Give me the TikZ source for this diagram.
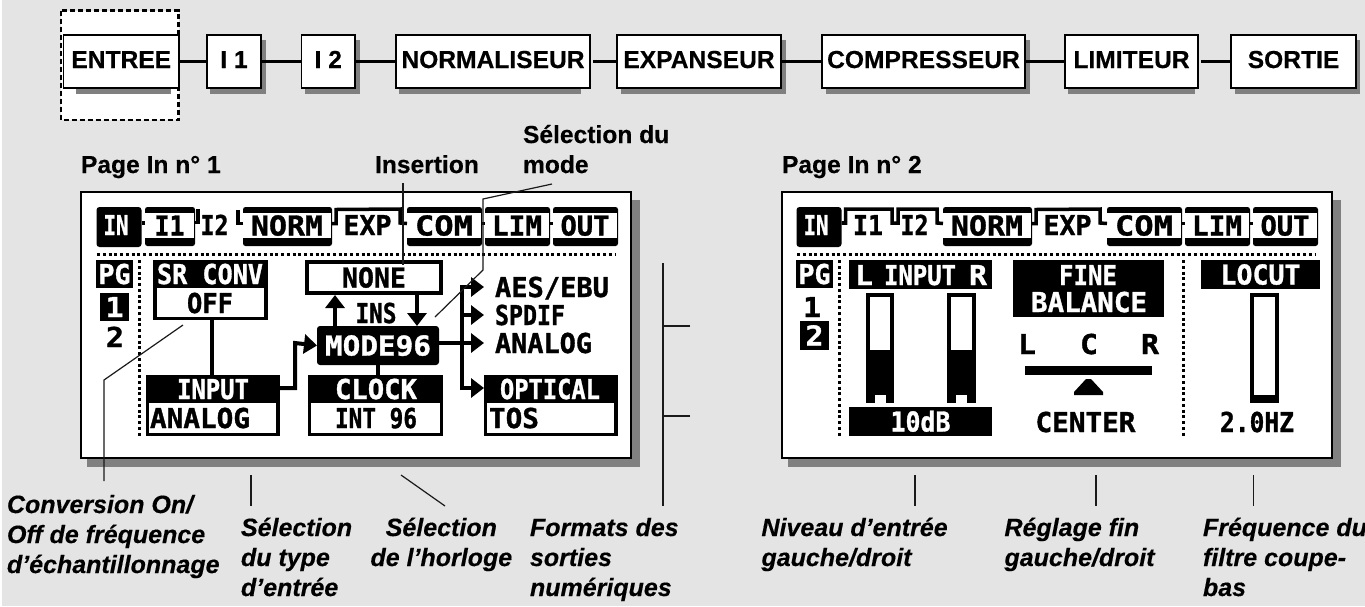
\documentclass[tikz,border=0pt]{standalone}
\usepackage{graphicx}
\usepackage{fontspec}
\setmainfont{Liberation Sans}[BoldFeatures={FakeBold=0.4},BoldItalicFeatures={FakeBold=0.4}]
\newfontfamily\lcdfont{DejaVu Sans Mono}[BoldFeatures={FakeBold=1.2}]
\usetikzlibrary{arrows.meta}
\definecolor{bgc}{HTML}{E4E4E4}
\definecolor{shc}{HTML}{808080}
\definecolor{ldc}{HTML}{1A1A1A}
\newcommand\lcd[2]{\resizebox{#1pt}{\height}{\lcdfont\bfseries\fontsize{27.4}{28}\selectfont #2}}
\newcommand\lbox[7][]{\node[box0,#1,minimum width={#5-#3},minimum height={#6-#4}] (#2) at ({(#3+#5)/2},{(#4+#6)/2}) {#7};}
% tab: name, x1, x2, text, width
\newcommand\tabbox[5]{%
  \lbox[fill=black,rounded corners=2.5pt]{#1}{#2}{207}{#3}{246}{}%
  \lbox[fill=white,text=black,ltx]{#1t}{#2+5}{213}{#3-6}{238}{\lcd{#5}{#4}}}
\newcommand\tabs[1]{%
  \lbox[blk,rounded corners=3pt]{#1in}{96.5}{207}{141.5}{247}{}%
  \node[lw] at (116,225) {\lcd{25}{IN}};
  \tabbox{#1norm}{243}{332}{NORM}{72}
  \node[lk] (#1exp) at (367.5,225) {\lcd{48}{EXP}};
  \tabbox{#1com}{407}{482}{COM}{58}
  \tabbox{#1lim}{485}{550}{LIM}{50}
  \tabbox{#1out}{553}{618}{OUT}{49}
  \draw[tabline] ([yshift=3pt]#1norm.east) -- ++(4,0) -- ++(0,-14) -- (400,209) -- (400,223) -- ([yshift=3pt]#1com.west);
  \draw[tabline] ([yshift=3pt]#1com.east) -- ([yshift=3pt]#1lim.west);
  \draw[tabline] ([yshift=3pt]#1lim.east) -- ([yshift=3pt]#1out.west);
  \draw[tabline] ([yshift=4pt]#1in.east) -- ++(4,0);
  \coordinate (#1da) at (97,254); \coordinate (#1db) at (616,254);
  \draw[dots] (#1da) -- (#1db);
  \lbox[blk]{#1pg}{96}{260}{133}{288}{\lcd{32}{PG}}
}
\tikzset{
  box0/.style={rectangle,inner sep=0pt,outer sep=0pt},
  ltx/.style={text height=20pt,text depth=0pt},
  blk/.style={fill=black,text=white,ltx},
  wht/.style={fill=white,text=black,ltx},
  lw/.style={box0,text=white,ltx},
  lk/.style={box0,text=black,ltx},
  tabline/.style={line width=3.5pt,line join=miter},
  dots/.style={line width=3pt,dash pattern=on 3pt off 2.75pt},
  blink/.style={line width=4pt},
  barrow/.style={line width=4pt,-{Triangle[length=13pt,width=19pt]}},
  leader/.style={line width=1.2pt,color=ldc},
  chain/.style={box0,fill=white,draw=black,line width=1.5pt,text=black,font=\fontsize{24.6}{26}\selectfont\bfseries,minimum height=53pt,text height=18pt,text depth=5pt},
  chainlink/.style={line width=3pt},
  title/.style={box0,anchor=base west,font=\fontsize{24.6}{30}\selectfont\bfseries},
  note/.style={box0,anchor=north west,align=left,font=\fontsize{25}{30}\selectfont\bfseries\itshape},
  panelc/.style={fill=white,draw=black,line width=1.5pt},
}
\begin{document}
\begin{tikzpicture}[x=1pt,y=-1pt]
\useasboundingbox (0,0) rectangle (1365,606);
\fill[white] (0,0) rectangle (1365,606);
\fill[bgc] (2.3,0) rectangle (1365,606);

% ---- top chain
\draw[fill=white,line width=2.4pt,dash pattern=on 5pt off 3pt] (61,10.5) rectangle (178.5,120);
\fill[shc] (76,40) rectangle (171,94);
\fill[shc] (210,40) rectangle (266,94);
\fill[shc] (305,40) rectangle (360,94);
\fill[shc] (399,40) rectangle (581,94);
\fill[shc] (621,40) rectangle (786,94);
\fill[shc] (826,40) rectangle (1030,94);
\fill[shc] (1068,40) rectangle (1195,94);
\fill[shc] (1235,40) rectangle (1360,94);
\lbox[chain]{entree}{63.5}{35}{179}{88}{ENTREE}
\lbox[chain]{ione}{207}{35}{261}{88}{I 1}
\lbox[chain]{itwo}{301.5}{35}{355}{88}{I 2}
\lbox[chain]{norm}{396}{35}{590}{88}{NORMALISEUR}
\lbox[chain]{expa}{617}{35}{781}{88}{EXPANSEUR}
\lbox[chain]{comp}{822}{35}{1025}{88}{COMPRESSEUR}
\lbox[chain]{limi}{1065}{35}{1198}{88}{LIMITEUR}
\lbox[chain]{sort}{1231}{35}{1356}{88}{SORTIE}
\draw[chainlink] (entree) -- (ione);
\draw[chainlink] (ione) -- (itwo);
\draw[chainlink] (itwo) -- (norm);
\draw[chainlink] ([xshift=3pt]norm.east) -- (expa);
\draw[chainlink] (expa) -- (comp);
\draw[chainlink] (comp) -- (limi);
\draw[chainlink] ([xshift=3pt]limi.east) -- (sort);

% ---- titles
\node[title] (t1) at (81,173) {Page In n° 1};
\node[title] (t2) at (782,173) {Page In n° 2};
\node[title] (t3) at (375,173) {Insertion};
\node[box0,anchor=north west,align=left,font=\fontsize{24.6}{30}\selectfont\bfseries] (t4) at (523,123) {\rule{0pt}{20pt}Sélection du\\mode};

% ---- panels
\fill[shc] (87,200) rectangle (640,467);
\fill[shc] (788,200) rectangle (1341,467);
\draw[panelc] (81,192) rectangle (631,458);
\draw[panelc] (782,192) rectangle (1332,458);

% ---- panel 1
\begin{scope}
\tabs{a}
\tabbox{ai1}{145}{195}{I1}{30}
\node[lk] (ai2) at (214.5,225) {\lcd{28}{I2}};
\draw[tabline] ([yshift=4pt]ai1.east) -- ++(3,0) -- ++(0,-14);
\draw[tabline] ([yshift=3pt]anorm.west) -- ++(-5,0) -- ++(0,-14);
\coordinate (avd1) at (139,260); \coordinate (avd2) at (139,436);
\draw[dots] (avd1) -- (avd2);
\lbox[blk]{apg1}{100}{293}{129}{321}{\lcd{18}{1}}
\node[lk] (apg2) at (115,337) {\lcd{18}{2}};

\lbox[fill=black]{srconv}{153}{260}{267.5}{320}{}
\lbox[fill=white]{srv}{157}{288}{264}{317}{}
\node[lw] at (210,274) {\lcd{106}{SR CONV}};
\node[lk] at (210,303) {\lcd{46}{OFF}};

\lbox[fill=black]{input}{146}{375}{280}{436}{}
\lbox[fill=white]{inputv}{149}{403}{276}{433}{}
\node[lw] at (213,389) {\lcd{72}{INPUT}};
\node[lk,anchor=west] at (150,418) {\lcd{100}{ANALOG}};

\lbox[fill=black]{clock}{308}{375}{443}{436}{}
\lbox[fill=white]{clockv}{311}{403}{440}{433}{}
\node[lw] at (376,389) {\lcd{82}{CLOCK}};
\node[lk] at (376,418) {\lcd{82}{INT 96}};

\lbox[fill=black]{opt}{484}{375}{618}{436}{}
\lbox[fill=white]{optv}{487}{403}{614}{433}{}
\node[lw] at (550,389) {\lcd{100}{OPTICAL}};
\node[lk,anchor=west] at (489,418) {\lcd{50}{TOS}};

\lbox[fill=black]{none}{305}{260}{443}{295}{}
\lbox[wht]{nonev}{309}{264}{439}{291}{\lcd{64}{NONE}}
\lbox[blk,rounded corners=3pt]{mode}{317}{326}{439}{365}{\lcd{106}{MODE96}}
\node[lk] (ins) at (376,313) {\lcd{41}{INS}};

\node[lk,anchor=west] (aes) at (495,287) {\lcd{114}{AES/EBU}};
\node[lk,anchor=west] (spd) at (495,315) {\lcd{70}{SPDIF}};
\node[lk,anchor=west] (ana) at (495,343) {\lcd{97}{ANALOG}};

\draw[blink] (srconv.south -| 212,0) -- (input.north -| 212,0);
\draw[blink] (mode.south) -- (mode.south |- clock.north);
\coordinate (kink) at (295,343);
\coordinate (outy) at (0,388);
\draw[barrow] (input.east |- outy) -| (kink) -- (mode.west);
\coordinate (upx) at (335,0); \coordinate (dnx) at (417,0);
\draw[barrow] (upx |- mode.north) -- (upx |- none.south);
\draw[barrow] (dnx |- none.south) -- (dnx |- mode.north);
\coordinate (bus) at (462,0);
\draw[blink,line cap=rect] (bus |- aes) -- (bus |- outy);
\draw[barrow] (bus |- aes) -- ([xshift=-11pt]aes.west);
\draw[barrow] (bus |- spd) -- ([xshift=-11pt]spd.west);
\draw[barrow] (mode.east |- ana) -- ([xshift=-11pt]ana.west);
\draw[barrow] (bus |- outy) -- (opt.west |- outy);
\end{scope}

% ---- panel 2
\begin{scope}[xshift=700pt]
\tabs{b}
\node[lk] (bi1) at (168,225) {\lcd{30}{I1}};
\node[lk] (bi2) at (214.5,225) {\lcd{28}{I2}};
\draw[tabline] ([yshift=4pt]bin.east) -- ++(4,0) -- ++(0,-14) -- (192,209) -- (192,223) -- (198,223) -- (198,209) -- (237,209) -- (237,223) -- ([yshift=3pt]bnorm.west);
\coordinate (bvd1) at (139,260); \coordinate (bvd2) at (139,436);
\draw[dots] (bvd1) -- (bvd2);
\coordinate (bvd3) at (483,260); \coordinate (bvd4) at (483,436);
\draw[dots] (bvd3) -- (bvd4);
\node[lk] (bpg1) at (112,307) {\lcd{18}{1}};
\lbox[blk]{bpg2}{100}{321}{129}{350}{\lcd{18}{2}}

\lbox[blk]{linput}{149}{260}{292}{289}{}
\node[lw,anchor=west] at (155,275) {\lcd{18}{L}};
\node[lw] at (220,275) {\lcd{72}{INPUT}};
\node[lw,anchor=east] at (287,275) {\lcd{18}{R}};
\lbox[fill=black]{barl}{166}{293}{194}{403}{}
\lbox[fill=white]{barlu}{170}{297}{190}{350}{}
\lbox[fill=white]{barln}{175}{395}{186}{403}{}
\lbox[fill=black]{barr}{247}{293}{276}{403}{}
\lbox[fill=white]{barru}{251}{297}{272}{350}{}
\lbox[fill=white]{barrn}{256}{395}{267}{403}{}
\lbox[blk]{level}{149}{407}{292}{436}{\lcd{60}{10dB}}

\lbox[fill=black]{fine}{313}{260}{464}{317}{}
\node[lw] at (388,275) {\lcd{58}{FINE}};
\node[lw] at (389,302) {\lcd{116}{BALANCE}};
\node[lk] (lL) at (327,344) {\lcd{18}{L}};
\node[lk] (lC) at (389,344) {\lcd{18}{C}};
\node[lk] (lR) at (450,344) {\lcd{18}{R}};
\fill (325,366) rectangle (452,375);
\fill (374,395) -- (403,395) -- (403,392) -- (391,379) -- (386,379) -- (374,392) -- cycle;
\node[lk] (cen) at (385.5,422) {\lcd{100}{CENTER}};

\lbox[blk]{locut}{501}{260}{620}{289}{\lcd{80}{LOCUT}}
\lbox[fill=black]{barc}{550}{293}{579}{403}{}
\lbox[fill=white]{barcu}{554}{297}{575}{395}{}
\node[lk] (hz) at (557,422) {\lcd{74}{2.0HZ}};
\end{scope}

% ---- leaders
\coordinate (l1a) at (403,183); \coordinate (l1b) at (403,265);
\draw[leader] (l1a) -- (l1b);
\coordinate (l2a) at (552,184); \coordinate (l2b) at (483,199); \coordinate (l2c) at (483,270); \coordinate (l2d) at (435,317);
\draw[leader] (l2a) -- (l2b) -- (l2c) -- (l2d);
\coordinate (l3a) at (183,325); \coordinate (l3b) at (104,380); \coordinate (l3c) at (104,481);
\draw[leader] (l3a) -- (l3b) -- (l3c);
\coordinate (l4a) at (251,475); \coordinate (l4b) at (251,506);
\draw[leader] (l4a) -- (l4b);
\coordinate (l5a) at (401,475); \coordinate (l5b) at (445,506);
\draw[leader] (l5a) -- (l5b);
\coordinate (l6a) at (663,263); \coordinate (l6b) at (663,506);
\draw[leader] (l6a) -- (l6b);
\coordinate (l7a) at (690,326); \coordinate (l7b) at (663,326);
\draw[leader] (l7a) -- (l7b);
\coordinate (l8a) at (690,416); \coordinate (l8b) at (663,416);
\draw[leader] (l8a) -- (l8b);
\coordinate (l9a) at (915,475); \coordinate (l9b) at (915,506);
\draw[leader] (l9a) -- (l9b);
\coordinate (l10a) at (1096,475); \coordinate (l10b) at (1096,506);
\draw[leader] (l10a) -- (l10b);
\coordinate (l11a) at (1253.5,475); \coordinate (l11b) at (1253.5,506);
\draw[leader] (l11a) -- (l11b);

% ---- notes
\node[note] (n1) at (7,493) {\rule{0pt}{20pt}Conversion On/\\Off de fréquence\\d’échantillonnage};
\node[note] (n2) at (241,516) {\rule{0pt}{20pt}Sélection\\du type\\d’entrée};
\node[note,align=center] (n3) at (370.5,516) {\rule{0pt}{20pt}Sélection\\de l’horloge};
\node[note] (n4) at (530,516) {\rule{0pt}{20pt}Formats des\\sorties\\numériques};
\node[note] (n5) at (761.5,516) {\rule{0pt}{20pt}Niveau d’entrée\\gauche/droit};
\node[note] (n6) at (1004.5,516) {\rule{0pt}{20pt}Réglage fin\\gauche/droit};
\node[note] (n7) at (1203,516) {\rule{0pt}{20pt}Fréquence du\\filtre coupe-\\bas};
\end{tikzpicture}
\end{document}
